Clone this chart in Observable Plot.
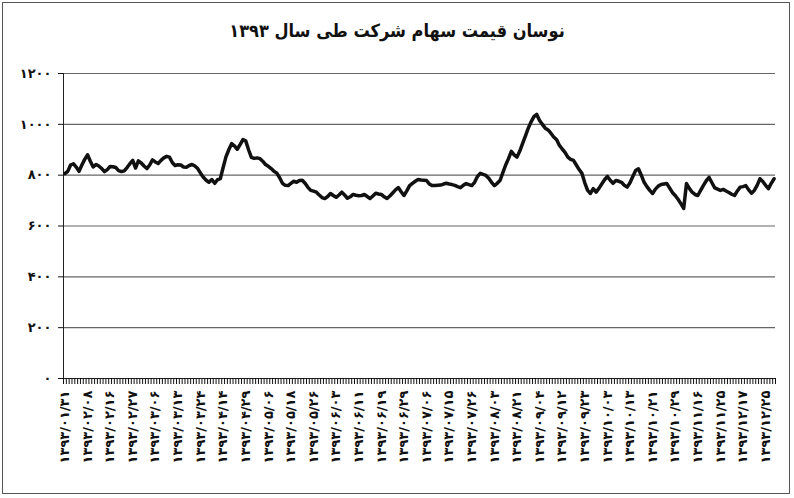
<!DOCTYPE html>
<html><head><meta charset="utf-8">
<script src="https://cdn.jsdelivr.net/npm/d3@7"></script>
<script src="https://cdn.jsdelivr.net/npm/@observablehq/plot@0.6"></script>
<style>
body{margin:0;background:#fff;}
#wrap{position:relative;width:794px;height:498px;overflow:hidden;background:#fff;}
#title{position:absolute;top:20px;left:0;width:794px;text-align:center;font:bold 18px "DejaVu Sans Condensed","DejaVu Sans";direction:rtl;color:#111;}
#frame{position:absolute;left:2px;top:2px;width:788px;height:492px;border:1px solid #555;box-sizing:border-box;pointer-events:none}
g[aria-label="x-axis tick label"] text{letter-spacing:4.5px;}
</style></head><body>
<div id="wrap"><div id="chart"></div><div id="title">نوسان قیمت سهام شرکت طی سال ۱۳۹۳</div><div id="frame"></div></div>
<script>
const dateLabels = [
"۱۳۹۳/۰۱/۳۱","۱۳۹۳/۰۲/۰۸","۱۳۹۳/۰۲/۱۶","۱۳۹۳/۰۲/۲۷","۱۳۹۳/۰۳/۰۶","۱۳۹۳/۰۳/۱۳","۱۳۹۳/۰۳/۲۴","۱۳۹۳/۰۴/۱۴",
"۱۳۹۳/۰۴/۲۹","۱۳۹۳/۰۵/۰۶","۱۳۹۳/۰۵/۱۸","۱۳۹۳/۰۵/۲۶","۱۳۹۳/۰۶/۰۳","۱۳۹۳/۰۶/۱۱","۱۳۹۳/۰۶/۱۹","۱۳۹۳/۰۶/۲۹",
"۱۳۹۳/۰۷/۰۶","۱۳۹۳/۰۷/۱۵","۱۳۹۳/۰۷/۲۶","۱۳۹۳/۰۸/۰۳","۱۳۹۳/۰۸/۲۱","۱۳۹۳/۰۹/۰۴","۱۳۹۳/۰۹/۱۲","۱۳۹۳/۰۹/۲۳",
"۱۳۹۳/۱۰/۰۳","۱۳۹۳/۱۰/۱۳","۱۳۹۳/۱۰/۲۱","۱۳۹۳/۱۰/۲۹","۱۳۹۳/۱۱/۱۶","۱۳۹۳/۱۱/۲۵","۱۳۹۳/۱۲/۱۷","۱۳۹۳/۱۲/۲۵"
];
const prices = [
806,815,840,845,832,815,840,862,880,855,832,842,836,826,814,822,834,833,830,818,
814,817,830,845,858,828,856,848,836,826,840,860,852,846,858,868,874,871,850,838,
841,840,832,831,838,842,836,826,808,792,780,772,783,768,782,786,830,872,900,924,
915,902,920,940,935,900,870,866,868,865,855,842,835,826,815,808,790,768,760,759,
768,776,772,779,780,768,752,740,737,733,722,712,708,716,728,720,713,722,733,722,
709,715,724,721,719,720,724,716,708,718,729,726,724,715,708,718,730,742,751,735,
720,738,759,768,776,783,781,780,779,765,759,759,760,761,765,768,765,763,760,755,
751,760,767,763,759,772,795,807,803,799,788,772,759,768,779,810,840,865,894,880,
871,895,925,955,985,1010,1030,1039,1015,1000,985,978,965,950,940,918,903,890,871,862,
858,840,822,807,770,740,728,747,733,748,765,782,795,780,768,779,776,772,760,753,
770,795,818,825,800,772,755,740,728,745,757,763,765,767,750,732,720,705,688,669,
767,748,733,724,720,740,760,778,791,770,750,745,740,744,738,732,725,720,738,753,
755,759,742,729,740,760,786,775,760,747,768,786
];
const yTicks = [0,200,400,600,800,1000,1200];
const yTickLabels = ["۰","۲۰۰","۴۰۰","۶۰۰","۸۰۰","۱۰۰۰","۱۲۰۰"];
const labelStep = 8;

const n = prices.length;
const data = prices.map((v,i)=>({i, v}));
const labelIdx = dateLabels.map((_,k)=>k*labelStep);
const boundaries = d3.range(n+1).map(i=>i-0.5);

const plot = Plot.plot({
  width:794, height:498, marginLeft:63, marginRight:19, marginTop:73, marginBottom:120,
  style:{fontFamily:"DejaVu Sans", background:"transparent", color:"#111"},
  x:{domain:[-0.5,n-0.5], axis:null},
  y:{domain:[0,1200], axis:null},
  marks:[
    Plot.ruleY(yTicks.filter(t=>t>0), {stroke:"#666", strokeWidth:1.2}),
    Plot.axisY({ticks:yTicks, tickSize:5, tickPadding:7, tickFormat:d=>yTickLabels[yTicks.indexOf(d)], fontSize:13, fontWeight:"bold", label:null}),
    Plot.ruleX([-0.5], {stroke:"#222"}),
    Plot.ruleY([0], {stroke:"#222"}),
    Plot.axisX({ticks:boundaries, tickSize:6, tickFormat:()=>"", label:null}),
    Plot.axisX({ticks:labelIdx, tickSize:0, tickPadding:12, tickRotate:-90, tickFormat:d=>dateLabels[d/labelStep], fontSize:13, fontWeight:"bold", label:null}),
    Plot.line(data,{x:"i", y:"v", stroke:"#111", strokeWidth:3.5, strokeLinejoin:"round"})
  ]
});
document.getElementById("chart").appendChild(plot);
</script>
</body></html>
